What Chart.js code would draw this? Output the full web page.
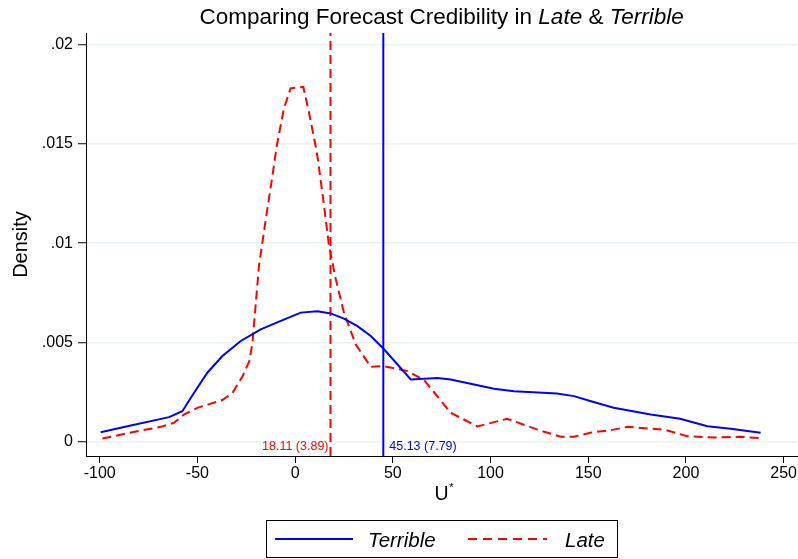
<!DOCTYPE html>
<html>
<head>
<meta charset="utf-8">
<script src="https://cdn.jsdelivr.net/npm/chart.js@4.4.1/dist/chart.umd.min.js"></script>
<style>
  body { margin: 0; background: #fff; }
  canvas { display: block; }
</style>
</head>
<body>
<canvas id="myChart" width="798" height="559"></canvas>
<script>
// kernel density of U* (Terrible)
let terribleX = [-99.5, -85.8, -64.5, -57.7, -51.7, -44.9, -37.2, -27.8, -17.6, -7, 2.9, 11.4, 18.2, 25, 31.9, 38.7, 45.5, 59.2, 72.8, 79.6, 91.6, 101.8, 112, 134, 142.7, 151, 163, 182, 197, 211, 222.9, 238.2];
let terribleY = [0.00047, 0.00077, 0.00123, 0.00153, 0.00246, 0.00347, 0.00431, 0.00507, 0.00566, 0.0061, 0.0065, 0.00657, 0.00646, 0.0062, 0.00582, 0.00532, 0.00465, 0.00313, 0.0032, 0.00313, 0.00288, 0.00266, 0.00254, 0.00242, 0.00229, 0.00204, 0.0017, 0.00136, 0.00115, 0.00077, 0.00064, 0.00044];

// kernel density of U* (Late)
let lateX = [-98.6, -80.7, -68.7, -62, -56.9, -50, -37.2, -32, -26.8, -23.4, -21.8, -18.5, -15, -11.6, -9.4, -5.7, -2.3, 4.2, 7.1, 10.5, 11.7, 14.8, 17.3, 20.8, 25, 31, 38.7, 45.5, 57.5, 66, 79.6, 93.3, 108.6, 124, 136, 142.7, 151, 163, 170, 188.8, 200.7, 214.3, 228, 238.2];
let lateY = [0.00015, 0.00052, 0.00074, 0.00094, 0.00136, 0.0017, 0.00209, 0.00246, 0.0033, 0.00406, 0.005, 0.00885, 0.0112, 0.0134, 0.0149, 0.0168, 0.01781, 0.01788, 0.0166, 0.0149, 0.0142, 0.0119, 0.0099, 0.0082, 0.0065, 0.0049, 0.00377, 0.0038, 0.00355, 0.0031, 0.00145, 0.00076, 0.00115, 0.0006, 0.00024, 0.00024, 0.00044, 0.0006, 0.00074, 0.0006, 0.00027, 0.0002, 0.00024, 0.00017];

// means (standard errors)
let meanTerrible = 45.13;
let meanLate = 18.11;
let seTerrible = 7.79;
let seLate = 3.89;

let xTicks = [-100, -50, 0, 50, 100, 150, 200, 250];
let yTicks = [0, 0.005, 0.01, 0.015, 0.02];
let yTickLabels = ['0', '.005', '.01', '.015', '.02'];

let xMin = -107, xMax = 257;
let yMin = -0.00073, yMax = 0.0206;

let blue = '#0000ff';
let red = '#ff0000';
let fontFam = '"Liberation Sans", Arial, Helvetica, sans-serif';

const toPoints = (xs, ys) => xs.map((x, i) => ({ x: x, y: ys[i] }));

// title, x title, mean labels and the legend box
const extras = {
  id: 'extras',
  afterDraw(chart) {
    const c = chart.ctx;
    const area = chart.chartArea;
    const xs = chart.scales.x;
    c.save();
    c.fillStyle = '#000';
    c.textBaseline = 'alphabetic';

    // title with italic parts
    let parts = [
      ['Comparing Forecast Credibility in ', ''],
      ['Late', 'italic '],
      [' & ', ''],
      ['Terrible', 'italic ']
    ];
    let total = 0;
    parts.forEach(p => {
      c.font = p[1] + '22.5px ' + fontFam;
      total += c.measureText(p[0]).width;
    });
    let tx = (area.left + area.right) / 2 - total / 2;
    parts.forEach(p => {
      c.font = p[1] + '22.5px ' + fontFam;
      c.fillText(p[0], tx, 24);
      tx += c.measureText(p[0]).width;
    });

    // x axis title U*
    c.font = '19.5px ' + fontFam;
    let uw = c.measureText('U').width;
    let ux = (area.left + area.right) / 2 - uw / 2;
    c.fillText('U', ux, 500);
    c.font = '11px ' + fontFam;
    c.fillText('*', ux + uw + 0.5, 491);

    // mean labels
    c.font = '12.5px ' + fontFam;
    c.textBaseline = 'middle';
    c.fillStyle = red;
    c.textAlign = 'right';
    c.fillText(meanLate.toFixed(2) + ' (' + seLate.toFixed(2) + ')', xs.getPixelForValue(meanLate) - 2, 447);
    c.fillStyle = blue;
    c.textAlign = 'left';
    c.fillText(meanTerrible.toFixed(2) + ' (' + seTerrible.toFixed(2) + ')', xs.getPixelForValue(meanTerrible) + 6, 447);

    // legend
    c.strokeStyle = '#000';
    c.lineWidth = 1;
    c.strokeRect(266.5, 520.5, 351, 37);
    c.lineWidth = 2;
    c.strokeStyle = blue;
    c.beginPath();
    c.moveTo(275, 539);
    c.lineTo(353, 539);
    c.stroke();
    c.strokeStyle = red;
    c.setLineDash([9, 6]);
    c.beginPath();
    c.moveTo(468, 539);
    c.lineTo(547, 539);
    c.stroke();
    c.setLineDash([]);
    c.fillStyle = '#000';
    c.textAlign = 'left';
    c.textBaseline = 'alphabetic';
    c.font = 'italic 20.5px ' + fontFam;
    c.fillText('Terrible', 368, 547);
    c.fillText('Late', 565, 547);
    c.restore();
  }
};

const ctx = document.getElementById('myChart');
let myChart = new Chart(ctx, {
  type: 'line',
  data: {
    datasets: [
      {
        label: 'Terrible',
        data: toPoints(terribleX, terribleY),
        borderColor: blue,
        borderWidth: 2,
        pointRadius: 0,
        tension: 0,
        fill: false
      },
      {
        label: 'Late',
        data: toPoints(lateX, lateY),
        borderColor: red,
        borderWidth: 2,
        borderDash: [9, 5],
        pointRadius: 0,
        tension: 0,
        fill: false
      },
      {
        label: 'mean Late',
        data: [{ x: meanLate, y: yMin }, { x: meanLate, y: yMax }],
        borderColor: red,
        borderWidth: 2,
        borderDash: [9, 5],
        pointRadius: 0
      },
      {
        label: 'mean Terrible',
        data: [{ x: meanTerrible, y: yMin }, { x: meanTerrible, y: yMax }],
        borderColor: blue,
        borderWidth: 2,
        pointRadius: 0
      }
    ]
  },
  options: {
    responsive: false,
    animation: false,
    layout: { padding: { top: 33, left: 0, right: 0, bottom: 0 } },
    plugins: {
      legend: { display: false },
      title: { display: false },
      tooltip: { enabled: false }
    },
    scales: {
      x: {
        type: 'linear',
        min: xMin,
        max: xMax,
        afterFit: (s) => { s.height = 103; },
        afterBuildTicks: (s) => { s.ticks = xTicks.map(v => ({ value: v })); },
        grid: { drawOnChartArea: false, tickLength: 7, tickColor: '#000', tickWidth: 1 },
        border: { color: '#000', width: 1 },
        ticks: { color: '#000', font: { family: fontFam, size: 16 }, padding: 1, maxRotation: 0, autoSkip: false }
      },
      y: {
        type: 'linear',
        min: yMin,
        max: yMax,
        afterFit: (s) => { s.width = 86; },
        afterBuildTicks: (s) => { s.ticks = yTicks.map(v => ({ value: v })); },
        grid: { color: '#eaf2f3', lineWidth: 1.5, tickLength: 8, tickColor: '#000', tickWidth: 1 },
        border: { color: '#000', width: 1 },
        ticks: {
          color: '#000',
          font: { family: fontFam, size: 16 },
          padding: 5,
          callback: (v) => {
            let i = yTicks.indexOf(v);
            return i >= 0 ? yTickLabels[i] : '';
          }
        },
        title: { display: true, text: 'Density', color: '#000', font: { family: fontFam, size: 20 }, padding: { top: 9, bottom: 0 } }
      }
    }
  },
  plugins: [extras]
});
</script>
</body>
</html>
